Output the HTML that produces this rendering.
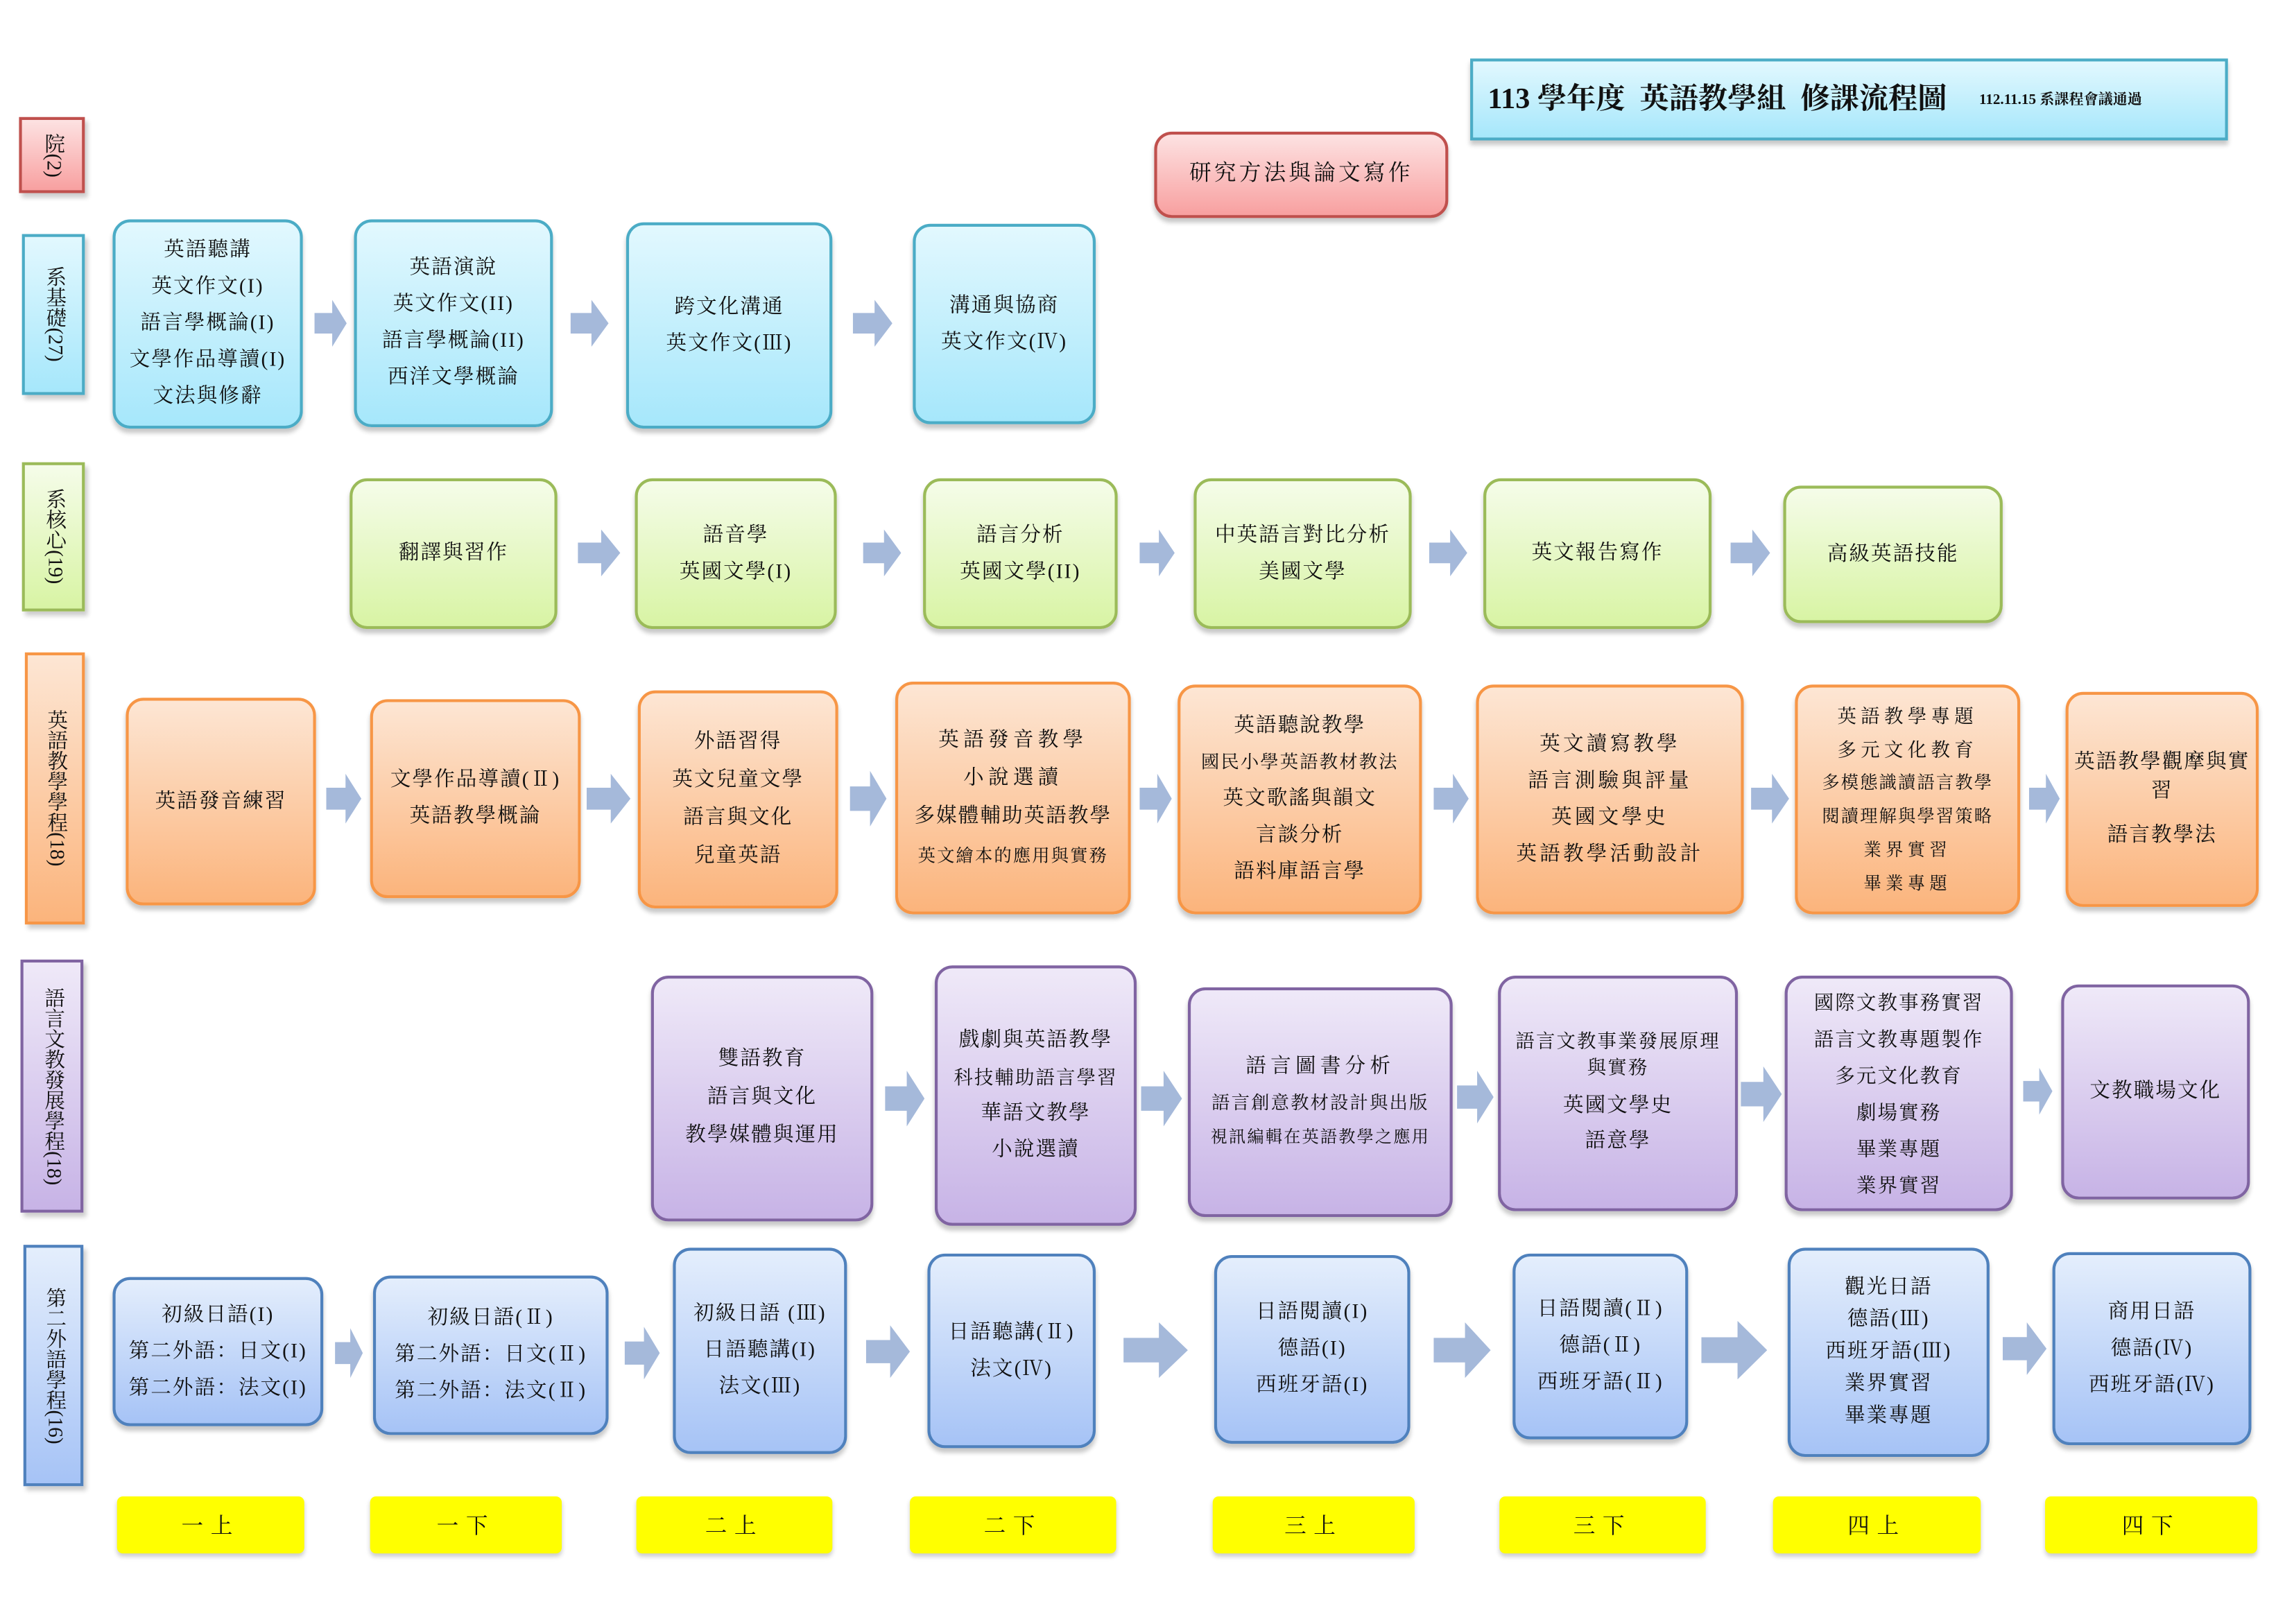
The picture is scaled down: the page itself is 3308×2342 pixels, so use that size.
<!DOCTYPE html>
<html><head><meta charset="utf-8">
<style>
html,body{margin:0;padding:0;background:#fff;}
body{width:3308px;height:2339px;overflow:hidden;position:relative;}
#c{position:absolute;left:0;top:0;width:1570px;height:1110px;transform:scale(2.1095);transform-origin:0 0;font-family:"Liberation Serif","Noto Serif CJK SC","Noto Sans CJK TC",serif;color:#111;}
.b{position:absolute;box-sizing:border-box;border-radius:12px;border-width:2px;border-style:solid;display:flex;flex-direction:column;justify-content:center;align-items:center;text-align:center;font-size:14px;line-height:25px;box-shadow:0 3px 3px rgba(0,0,0,.22);letter-spacing:1px;}
.l{position:absolute;box-sizing:border-box;border-width:2px;border-style:solid;writing-mode:vertical-rl;text-orientation:mixed;display:flex;align-items:center;justify-content:center;font-size:14px;line-height:20px;box-shadow:2px 3px 3px rgba(0,0,0,.2);}
.bl{background:linear-gradient(#e2f8fe,#a6e7fb);border-color:#4bacc6;}
.gr{background:linear-gradient(#f5fce9,#d8f4a4);border-color:#9bbb59;}
.or{background:linear-gradient(#fde6d4,#fbb47c);border-color:#f79646;}
.pu{background:linear-gradient(#efe9f8,#c7b3e6);border-color:#8064a2;}
.lb{background:linear-gradient(#e4eefc,#a6c3f6);border-color:#4f81bd;}
.rd{background:linear-gradient(#fde2e2,#f8a0a0);border-color:#c0504d;}
.y{position:absolute;background:#ffff00;border-radius:4px;display:flex;align-items:center;justify-content:center;font-size:15px;letter-spacing:5px;box-shadow:0 2px 3px rgba(0,0,0,.2);top:1023px;height:39px;}
svg.a{position:absolute;}
.s{letter-spacing:3px;}
</style></head><body><div id="c">

<div class="b bl" style="left:1005px;top:40px;width:518px;height:56px;border-radius:0;flex-direction:row;justify-content:flex-start;padding-left:10px;letter-spacing:0"><span style="font-size:20px;font-weight:bold">113 學年度&nbsp; 英語教學組&nbsp; 修課流程圖</span><span style="font-size:10px;margin-left:22px;font-weight:bold">112.11.15 系課程會議通過</span></div>
<div class="b rd" style="left:789px;top:90px;width:201px;height:59px;font-size:15px;letter-spacing:2px">研究方法與論文寫作</div>

<div class="l rd" style="left:13px;top:80px;width:45px;height:52px">院(2)</div>
<div class="l bl" style="left:15px;top:160px;width:43px;height:110px">系基礎(27)</div>
<div class="l gr" style="left:15px;top:316px;width:43px;height:102px">系核心(19)</div>
<div class="l or" style="left:17px;top:446px;width:41px;height:186px">英語教學學程(18)</div>
<div class="l pu" style="left:14px;top:656px;width:43px;height:173px">語言文教發展學程(18)</div>
<div class="l lb" style="left:16px;top:851px;width:41px;height:165px">第二外語學程(16)</div>

<!-- row1 -->
<div class="b bl" style="left:77px;top:150px;width:130px;height:143px">英語聽講<br>英文作文(I)<br>語言學概論(I)<br>文學作品導讀(I)<br>文法與修辭</div>
<div class="b bl" style="left:242px;top:150px;width:136px;height:142px">英語演說<br>英文作文(II)<br>語言學概論(II)<br>西洋文學概論</div>
<div class="b bl" style="left:428px;top:152px;width:141px;height:141px">跨文化溝通<br>英文作文(Ⅲ)</div>
<div class="b bl" style="left:624px;top:153px;width:125px;height:137px">溝通與協商<br>英文作文(Ⅳ)</div>

<!-- row2 -->
<div class="b gr" style="left:239px;top:327px;width:142px;height:103px">翻譯與習作</div>
<div class="b gr" style="left:434px;top:327px;width:138px;height:103px">語音學<br>英國文學(I)</div>
<div class="b gr" style="left:631px;top:327px;width:133px;height:103px">語言分析<br>英國文學(II)</div>
<div class="b gr" style="left:816px;top:327px;width:149px;height:103px">中英語言對比分析<br>美國文學</div>
<div class="b gr" style="left:1014px;top:327px;width:156px;height:103px">英文報告寫作</div>
<div class="b gr" style="left:1219px;top:332px;width:150px;height:94px">高級英語技能</div>

<!-- row3 -->
<div class="b or" style="left:86px;top:477px;width:130px;height:142px">英語發音練習</div>
<div class="b or" style="left:253px;top:478px;width:144px;height:136px">文學作品導讀(Ⅱ)<br>英語教學概論</div>
<div class="b or" style="left:436px;top:472px;width:137px;height:149px;line-height:26px">外語習得<br>英文兒童文學<br>語言與文化<br>兒童英語</div>
<div class="b or" style="left:612px;top:466px;width:161px;height:159px;line-height:26px"><span class="s">英語發音教學</span><span class="s">小說選讀</span><span>多媒體輔助英語教學</span><span style="font-size:12px">英文繪本的應用與實務</span></div>
<div class="b or" style="left:805px;top:468px;width:167px;height:157px;line-height:25px;letter-spacing:1px"><span>英語聽說教學</span><span style="font-size:12.5px">國民小學英語教材教法</span><span>英文歌謠與韻文</span><span>言談分析</span><span>語料庫語言學</span></div>
<div class="b or" style="left:1009px;top:468px;width:183px;height:157px;line-height:25px;letter-spacing:2px">英文讀寫教學<br>語言測驗與評量<br>英國文學史<br>英語教學活動設計</div>
<div class="b or" style="left:1227px;top:468px;width:154px;height:157px;line-height:23px;font-size:13px"><span class="s">英語教學專題</span><span class="s">多元文化教育</span><span style="font-size:12px">多模態識讀語言教學</span><span style="font-size:12px">閱讀理解與學習策略</span><span style="font-size:12px" class="s">業界實習</span><span style="font-size:12px" class="s">畢業專題</span></div>
<div class="b or" style="left:1412px;top:473px;width:132px;height:147px;line-height:20px"><span>英語教學觀摩與實習</span><span style="margin-top:10px">語言教學法</span></div>

<!-- row4 -->
<div class="b pu" style="left:445px;top:667px;width:152px;height:168px;line-height:26px">雙語教育<br>語言與文化<br>教學媒體與運用</div>
<div class="b pu" style="left:639px;top:660px;width:138px;height:178px"><span>戲劇與英語教學</span><span style="font-size:13px">科技輔助語言學習</span><span>華語文教學</span><span>小說選讀</span></div>
<div class="b pu" style="left:812px;top:675px;width:181px;height:157px;line-height:24px"><span class="s">語言圖書分析</span><span style="font-size:12.5px">語言創意教材設計與出版</span><span style="font-size:11.5px">視訊編輯在英語教學之應用</span></div>
<div class="b pu" style="left:1024px;top:667px;width:164px;height:161px;line-height:18px"><span style="font-size:13px">語言文教事業發展原理</span><span style="font-size:13px">與實務</span><span style="margin-top:6px;line-height:24px">英國文學史</span><span style="line-height:24px">語意學</span></div>
<div class="b pu" style="left:1220px;top:667px;width:156px;height:161px;line-height:25px;font-size:13.5px">國際文教事務實習<br>語言文教專題製作<br>多元文化教育<br>劇場實務<br>畢業專題<br>業界實習</div>
<div class="b pu" style="left:1409px;top:673px;width:129px;height:147px">文教職場文化</div>

<!-- row5 -->
<div class="b lb" style="left:77px;top:873px;width:144px;height:102px">初級日語(I)<br>第二外語：日文(I)<br>第二外語：法文(I)</div>
<div class="b lb" style="left:255px;top:872px;width:161px;height:109px">初級日語(Ⅱ)<br>第二外語：日文(Ⅱ)<br>第二外語：法文(Ⅱ)</div>
<div class="b lb" style="left:460px;top:853px;width:119px;height:141px">初級日語 (Ⅲ)<br>日語聽講(I)<br>法文(Ⅲ)</div>
<div class="b lb" style="left:634px;top:857px;width:115px;height:133px">日語聽講(Ⅱ)<br>法文(Ⅳ)</div>
<div class="b lb" style="left:830px;top:858px;width:134px;height:129px">日語閱讀(I)<br>德語(I)<br>西班牙語(I)</div>
<div class="b lb" style="left:1034px;top:857px;width:120px;height:127px">日語閱讀(Ⅱ)<br>德語(Ⅱ)<br>西班牙語(Ⅱ)</div>
<div class="b lb" style="left:1222px;top:853px;width:138px;height:143px;line-height:22px">觀光日語<br>德語(Ⅲ)<br>西班牙語(Ⅲ)<br>業界實習<br>畢業專題</div>
<div class="b lb" style="left:1403px;top:856px;width:136px;height:132px">商用日語<br>德語(Ⅳ)<br>西班牙語(Ⅳ)</div>

<!-- semesters -->
<div class="y" style="left:80px;width:128px">一上</div>
<div class="y" style="left:253px;width:131px">一下</div>
<div class="y" style="left:435px;width:134px">二上</div>
<div class="y" style="left:622px;width:141px">二下</div>
<div class="y" style="left:829px;width:138px">三上</div>
<div class="y" style="left:1025px;width:141px">三下</div>
<div class="y" style="left:1212px;width:142px">四上</div>
<div class="y" style="left:1398px;width:145px">四下</div>

<!-- arrows -->
<svg class="a" width="1570" height="1110" style="left:0;top:0" fill="#a5b9da">
<defs><symbol id="ar" viewBox="0 0 100 100" preserveAspectRatio="none"><polygon points="0,28 55,28 55,0 100,50 55,100 55,72 0,72"/></symbol></defs>
<use href="#ar" x="215" y="205" width="22" height="32"/>
<use href="#ar" x="390" y="205" width="26" height="32"/>
<use href="#ar" x="583" y="205" width="27" height="32"/>

<use href="#ar" x="395" y="362" width="29" height="32"/>
<use href="#ar" x="590" y="362" width="26" height="32"/>
<use href="#ar" x="779" y="362" width="24" height="32"/>
<use href="#ar" x="977" y="362" width="26" height="32"/>
<use href="#ar" x="1183" y="362" width="27" height="32"/>

<use href="#ar" x="223" y="529" width="24" height="34"/>
<use href="#ar" x="401" y="529" width="30" height="34"/>
<use href="#ar" x="581" y="527" width="25" height="38"/>
<use href="#ar" x="779" y="529" width="22" height="34"/>
<use href="#ar" x="980" y="529" width="24" height="34"/>
<use href="#ar" x="1197" y="529" width="26" height="34"/>
<use href="#ar" x="1387" y="529" width="21" height="34"/>

<use href="#ar" x="605" y="732" width="27" height="38"/>
<use href="#ar" x="780" y="732" width="28" height="38"/>
<use href="#ar" x="996" y="732" width="25" height="36"/>
<use href="#ar" x="1190" y="729" width="28" height="38"/>
<use href="#ar" x="1383" y="730" width="20" height="32"/>

<use href="#ar" x="229" y="908" width="19" height="34"/>
<use href="#ar" x="427" y="907" width="24" height="36"/>
<use href="#ar" x="592" y="906" width="30" height="36"/>
<use href="#ar" x="768" y="904" width="44" height="38"/>
<use href="#ar" x="980" y="904" width="39" height="38"/>
<use href="#ar" x="1163" y="903" width="45" height="40"/>
<use href="#ar" x="1369" y="904" width="30" height="36"/>
</svg>
</div></body></html>
